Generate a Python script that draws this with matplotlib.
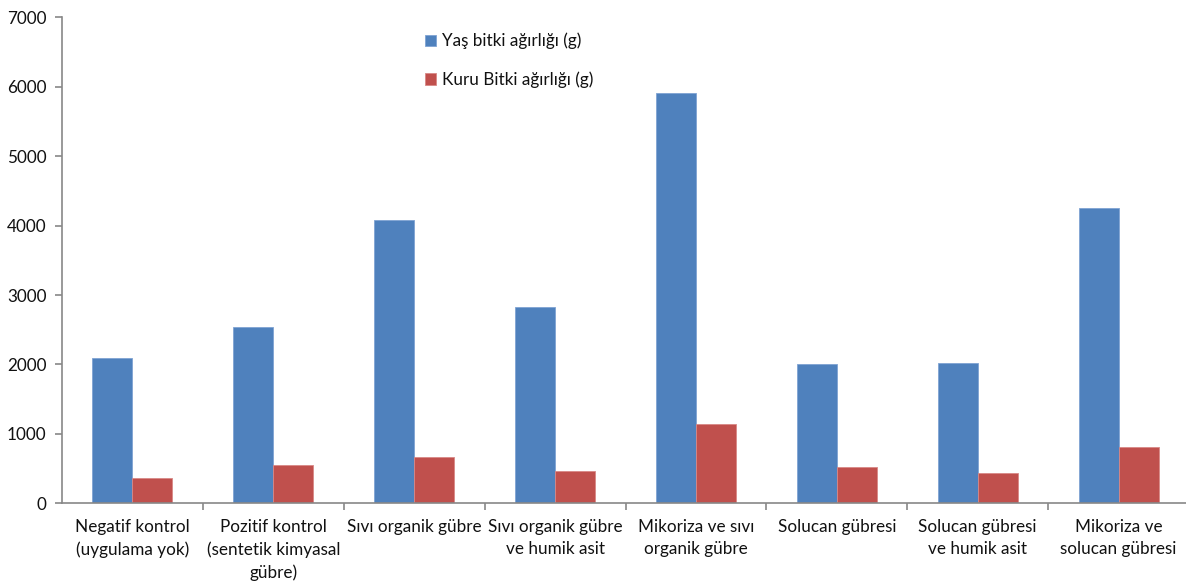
import matplotlib
matplotlib.use("Agg")
import matplotlib.pyplot as plt
import numpy as np

categories = [
    "Negatif kontrol\n(uygulama yok)",
    "Pozitif kontrol\n(sentetik kimyasal\ngübre)",
    "Sıvı organik gübre",
    "Sıvı organik gübre\nve humik asit",
    "Mikoriza ve sıvı\norganik gübre",
    "Solucan gübresi",
    "Solucan gübresi\nve humik asit",
    "Mikoriza ve\nsolucan gübresi",
]
yas = [2090, 2540, 4080, 2830, 5910, 2000, 2020, 4250]
kuru = [360, 550, 660, 460, 1145, 520, 440, 805]
series_labels = ["Yaş bitki ağırlığı (g)", "Kuru Bitki ağırlığı (g)"]
yticks = [0, 1000, 2000, 3000, 4000, 5000, 6000, 7000]

plt.rcParams['font.family'] = ['Lato', 'DejaVu Sans']

fig = plt.figure(figsize=(11.86, 5.83), dpi=100)
ax = fig.add_axes([62/1186, (583-503.3)/583, (1189-62)/1186, (503.3-17.3)/583])

x = np.arange(len(categories))
w = 0.284
b1 = ax.bar(x - w/2, yas, w, color="#4F81BD", edgecolor="#7FA3D3", linewidth=0.6, label=series_labels[0])
b2 = ax.bar(x + w/2, kuru, w, color="#C0504D", edgecolor="#D88886", linewidth=0.6, label=series_labels[1])

ax.set_xlim(-0.5, len(categories) - 0.5)
ax.set_ylim(0, 7000)
ax.set_yticks(yticks)
ax.set_yticklabels([str(v) for v in yticks], fontsize=12.3, color="#111111")

ax.set_xticks(x)
ax.set_xticklabels(categories, fontsize=12.3, color="#111111", linespacing=1.5)
ax.tick_params(axis='x', length=0, pad=11)
ax.set_xticks(np.arange(len(categories)) + 0.5, minor=True)
ax.tick_params(axis='x', which='minor', length=5, color="#888888", width=1.2, direction='out')
ax.tick_params(axis='y', length=5, color="#888888", width=1.2, direction='out', pad=6)

for s in ['top', 'right']:
    ax.spines[s].set_visible(False)
for s in ['left', 'bottom']:
    ax.spines[s].set_color("#888888")
    ax.spines[s].set_linewidth(1.2)

leg = ax.legend(loc='upper left', bbox_to_anchor=(418/1186, 1 - 26/583), bbox_transform=fig.transFigure,
                frameon=False, fontsize=12.3, handlelength=0.65, handleheight=0.65,
                handletextpad=0.35, labelspacing=1.3, borderaxespad=0)
for t in leg.get_texts():
    t.set_color("#111111")

fig.savefig("out.png", dpi=100)
